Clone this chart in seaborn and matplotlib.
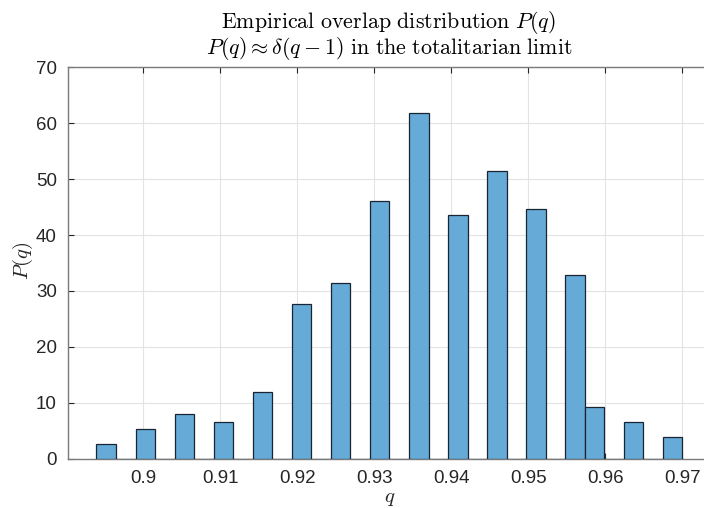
import numpy as np
import pandas as pd
import matplotlib
matplotlib.use("Agg")
import matplotlib.pyplot as plt
import seaborn as sns

# ---- data ----
q_centers = [0.8952, 0.9002, 0.9053, 0.9104, 0.9155, 0.9205, 0.9256, 0.9307,
             0.9358, 0.9408, 0.9459, 0.9510, 0.9561, 0.9586, 0.9637, 0.9687]
p_values = [2.56, 5.24, 7.93, 6.55, 11.86, 27.6, 31.5, 46.1,
            61.9, 43.5, 51.4, 44.7, 32.8, 9.18, 6.49, 3.86]
q_min, q_max, n_bins = 0.8939, 0.9700, 30
x_ticks = [0.90, 0.91, 0.92, 0.93, 0.94, 0.95, 0.96, 0.97]
x_tick_labels = ["0.9", "0.91", "0.92", "0.93", "0.94", "0.95", "0.96", "0.97"]
y_ticks = [0, 10, 20, 30, 40, 50, 60, 70]

df = pd.DataFrame({"q": q_centers, "P": p_values})

sns.set_theme(style="white")
plt.rcParams["font.family"] = ["Liberation Sans", "DejaVu Sans"]
plt.rcParams["mathtext.fontset"] = "cm"

fig = plt.figure(figsize=(7.04, 5.08), dpi=100)
ax = fig.add_axes([68 / 704, (508 - 458.6) / 508, 1 - 68 / 704, (458.6 - 67.4) / 508])

sns.histplot(data=df, x="q", weights="P", bins=n_bins, binrange=(q_min, q_max),
             stat="count", color="#66AAD7", alpha=1.0, edgecolor="#1a2533",
             linewidth=0.9, ax=ax, zorder=3)

ax.set_xlim(0.8902, 0.9728)
ax.set_ylim(0, 70)
ax.set_xticks(x_ticks)
ax.set_xticklabels(x_tick_labels)
ax.set_yticks(y_ticks)

axis_col = "#262626"
ax.grid(True, color="#e3e3e3", linewidth=0.8, zorder=0)
ax.set_axisbelow(True)
for side in ["left", "bottom", "top"]:
    ax.spines[side].set_visible(True)
    ax.spines[side].set_color("#7a7a7a")
    ax.spines[side].set_linewidth(1.0)
ax.spines["right"].set_visible(False)
ax.tick_params(axis="both", direction="in", length=4, width=0.8, color=axis_col,
               labelsize=13.5, labelcolor=axis_col, top=True, bottom=True,
               left=True, right=False, pad=8)

ax.set_xlabel("")
ax.set_ylabel("")
fig.text(390 / 704, 1 - 502 / 508, r"$q$", ha="center", va="baseline", fontsize=15, color=axis_col)
fig.text(23 / 704, 1 - 261 / 508, r"$P(q)$", ha="center", va="center", rotation=90,
         fontsize=15, color=axis_col)
fig.text(389 / 704, 1 - 28 / 508, r"$\mathrm{Empirical\ overlap\ distribution}\ P(q)$",
         ha="center", va="baseline", fontsize=15.8, color="black")
fig.text(389 / 704, 1 - 54 / 508, r"$P(q) \approx \delta(q-1)\ \mathrm{in\ the\ totalitarian\ limit}$",
         ha="center", va="baseline", fontsize=15.8, color="black")

fig.savefig("out.png", dpi=100)
